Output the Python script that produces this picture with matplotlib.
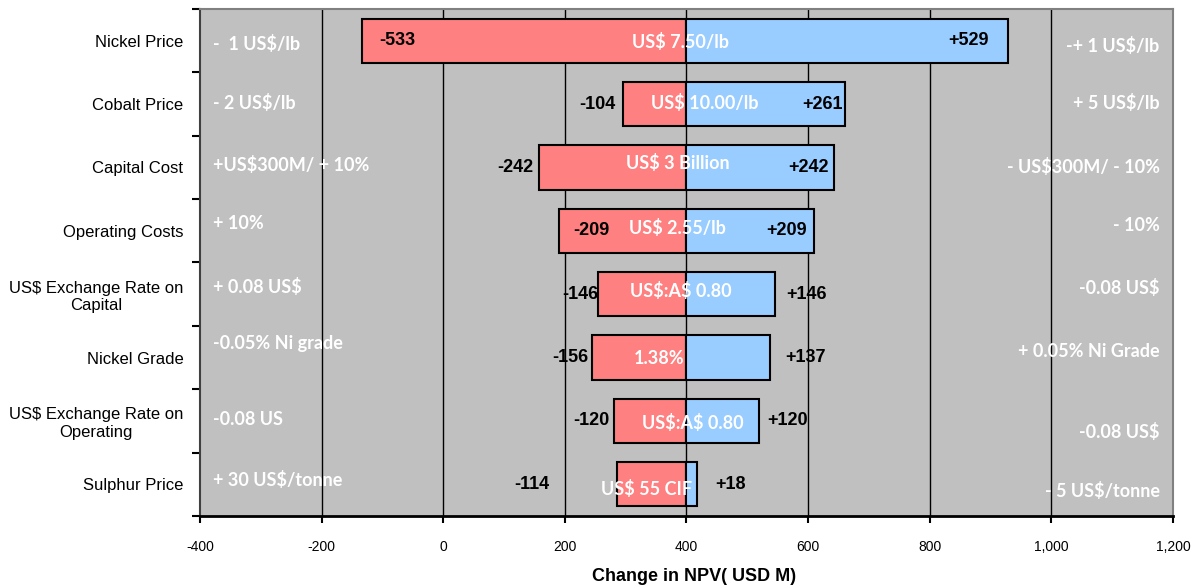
import numpy as np
from matplotlib import pyplot as plt

plt.rcParams["text.parse_math"] = False

# sensitivity of project NPV (USD M) around the base case
base_npv = 400
categories = ["Nickel Price", "Cobalt Price", "Capital Cost", "Operating Costs",
              "US$ Exchange Rate on\nCapital", "Nickel Grade",
              "US$ Exchange Rate on\nOperating", "Sulphur Price"]
downside = [533, 104, 242, 209, 146, 156, 120, 114]
upside = [529, 261, 242, 209, 146, 137, 120, 18]
base_case = ["US$ 7.50/lb", "US$ 10.00/lb", "US$ 3 Billion", "US$ 2.55/lb",
             "US$:A$ 0.80", "1.38%", "US$:A$ 0.80", "US$ 55 CIF"]
low_case = ["-  1 US$/lb", "- 2 US$/lb", "+US$300M/ + 10%", "+ 10%",
            "+ 0.08 US$", "-0.05% Ni grade", "-0.08 US", "+ 30 US$/tonne"]
high_case = ["-+ 1 US$/lb", "+ 5 US$/lb", "- US$300M/ - 10%", "- 10%",
             "-0.08 US$", "+ 0.05% Ni Grade", "-0.08 US$", "- 5 US$/tonne"]
x_ticks = [-400, -200, 0, 200, 400, 600, 800, 1000, 1200]

# where the value labels sit (data units) and small vertical nudges
down_label_x = [-76, 253, 118, 243, 225, 209, 243, 146]
up_label_x = [863, 623, 600, 564, 597, 595, 567, 472]
base_label_x = [390, 430, 385, 385, 390, 355, 410, 335]
base_dy = [0.02, -0.02, -0.07, -0.04, -0.05, 0.02, 0.03, 0.07]
low_dy = [0.05, -0.02, -0.04, -0.11, -0.12, -0.22, -0.02, -0.07]
high_dy = [0.08, -0.02, 0.0, -0.08, -0.10, -0.10, 0.17, 0.10]

arial = ["Liberation Sans", "DejaVu Sans"]
calibri = ["Lato", "DejaVu Sans"]

fig = plt.figure(figsize=(12.03, 5.86), dpi=100)
ax = fig.add_axes([0.1663, 0.1195, 0.8087, 0.8651])
ax.set_facecolor("#c0c0c0")

y = np.arange(len(categories))
down = np.array(downside)
up = np.array(upside)

for xv in x_ticks[1:-1]:
    ax.axvline(xv, color="black", lw=1.0, zorder=1)

ax.barh(y, -down, left=base_npv, height=0.7, color="#ff8080",
        edgecolor="black", lw=1.5, zorder=2)
ax.barh(y, up, left=base_npv, height=0.7, color="#99ccff",
        edgecolor="black", lw=1.5, zorder=2)

for i in range(len(categories)):
    ax.text(down_label_x[i], i, f"-{downside[i]}", ha="center", va="center",
            fontsize=13, fontweight="bold", family=arial, zorder=4)
    ax.text(up_label_x[i], i, f"+{upside[i]}", ha="center", va="center",
            fontsize=13, fontweight="bold", family=arial, zorder=4)
    ax.text(base_label_x[i], i + base_dy[i], base_case[i], ha="center",
            va="center", fontsize=13, fontweight="bold", family=calibri,
            color="white", zorder=4)
    ax.text(-378, i + low_dy[i], low_case[i], ha="left", va="center",
            fontsize=13, fontweight="bold", family=calibri, color="white",
            zorder=4)
    ax.text(1178, i + high_dy[i], high_case[i], ha="right", va="center",
            fontsize=13, fontweight="bold", family=calibri, color="white",
            zorder=4)

ax.set_xlim(-400, 1200)
ax.set_ylim(len(categories) - 0.5, -0.5)
ax.set_xticks(x_ticks)
ax.set_xticklabels([f"{v:,}" for v in x_ticks], family=arial, fontsize=10)
ax.tick_params(axis="x", length=5, width=1.5, direction="out", pad=12)

ax.set_yticks(np.arange(len(categories) + 1) - 0.5)
ax.set_yticklabels([])
ax.set_yticks(y, minor=True)
ax.set_yticklabels(categories, minor=True, family=arial, fontsize=12)
ax.tick_params(axis="y", which="major", length=6, width=1.5, direction="out")
ax.tick_params(axis="y", which="minor", length=0, pad=12)
for lab in ax.get_yticklabels(minor=True):
    lab.set_multialignment("center")

ax.set_xlabel("Change in NPV( USD M)", fontsize=13, fontweight="bold",
              family=arial)
ax.xaxis.label.set_va("center")
ax.xaxis.set_label_coords(0.508, -0.12)

for side in ["top", "right"]:
    ax.spines[side].set_color("#808080")
    ax.spines[side].set_linewidth(1.5)
ax.spines["left"].set_color("#404040")
ax.spines["left"].set_linewidth(1.5)
ax.spines["bottom"].set_color("black")
ax.spines["bottom"].set_linewidth(2)

fig.savefig("out.png", dpi=100)
